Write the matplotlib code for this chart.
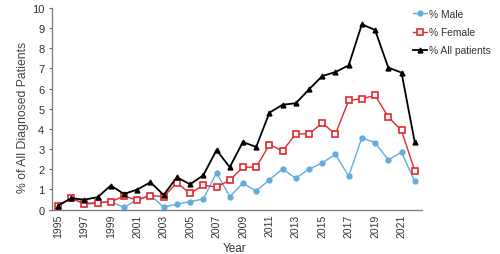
import matplotlib
matplotlib.use("Agg")
import matplotlib.pyplot as plt

plt.rcParams['font.family'] = ['Liberation Sans', 'DejaVu Sans']

years = list(range(1995, 2023))
male = [0.2, 0.55, 0.33, 0.35, 0.4, 0.1, 0.5, 0.7, 0.12, 0.27, 0.39, 0.52, 1.82, 0.64,
        1.3, 0.92, 1.47, 2.01, 1.55, 2.0, 2.31, 2.74, 1.65, 3.56, 3.31, 2.46, 2.84, 1.4]
female = [0.19, 0.56, 0.27, 0.32, 0.39, 0.66, 0.47, 0.69, 0.64, 1.32, 0.8, 1.2, 1.12, 1.45,
          2.1, 2.1, 3.22, 2.91, 3.75, 3.75, 4.29, 3.74, 5.41, 5.5, 5.66, 4.59, 3.92, 1.93]
allp = [0.19, 0.56, 0.49, 0.61, 1.19, 0.77, 0.99, 1.35, 0.72, 1.6, 1.25, 1.7, 2.95, 2.1,
        3.35, 3.1, 4.8, 5.2, 5.27, 5.96, 6.62, 6.82, 7.15, 9.19, 8.9, 7.04, 6.79, 3.34]
xticks = list(range(1995, 2022, 2))
yticks = list(range(0, 11))

fig = plt.figure(figsize=(5, 2.55), dpi=100)
ax = fig.add_axes([0.104, 0.1745, 0.74, 0.7905])

ax.plot(years, male, color='#62acdf', marker='o', markersize=3.5, lw=1.0, label='% Male', zorder=2)
ax.plot(years, female, color='#e02a2e', marker='s', markersize=4, markerfacecolor='white',
        markeredgewidth=1.2, lw=1.0, label='% Female', zorder=3)
ax.plot(years, allp, color='black', marker='^', markersize=3.5, lw=1.3, label='% All patients', zorder=4)

ax.set_xlim(1994.55, 2022.55)
ax.set_ylim(0, 10)
ax.set_xticks(xticks)
ax.set_xticklabels([str(y) for y in xticks], rotation=90, fontsize=7.5, color='#333333')
ax.set_yticks(yticks)
ax.set_yticklabels([str(y) for y in yticks], fontsize=8, color='#333333')
ax.tick_params(axis='x', length=0, pad=3)
ax.tick_params(axis='y', length=2.5, width=0.8, color='#666666', pad=3)
for s in ['top', 'right']:
    ax.spines[s].set_visible(False)
for s in ['left', 'bottom']:
    ax.spines[s].set_color('#777777')
    ax.spines[s].set_linewidth(0.9)

ax.set_ylabel('% of All Diagnosed Patients', fontsize=8.8, color='#444444')
ax.yaxis.set_label_coords(-0.063, 0.46)
fig.text(0.47, 0.024, 'Year', fontsize=8.5, color='#333333', ha='center', va='center')

leg = ax.legend(loc='upper left', bbox_to_anchor=(0.965, 1.015), frameon=False, fontsize=7.4,
                handlelength=1.3, handletextpad=0.25, labelspacing=0.8, borderaxespad=0)
for t in leg.get_texts():
    t.set_color('#333333')

fig.savefig('out.png', dpi=100)
